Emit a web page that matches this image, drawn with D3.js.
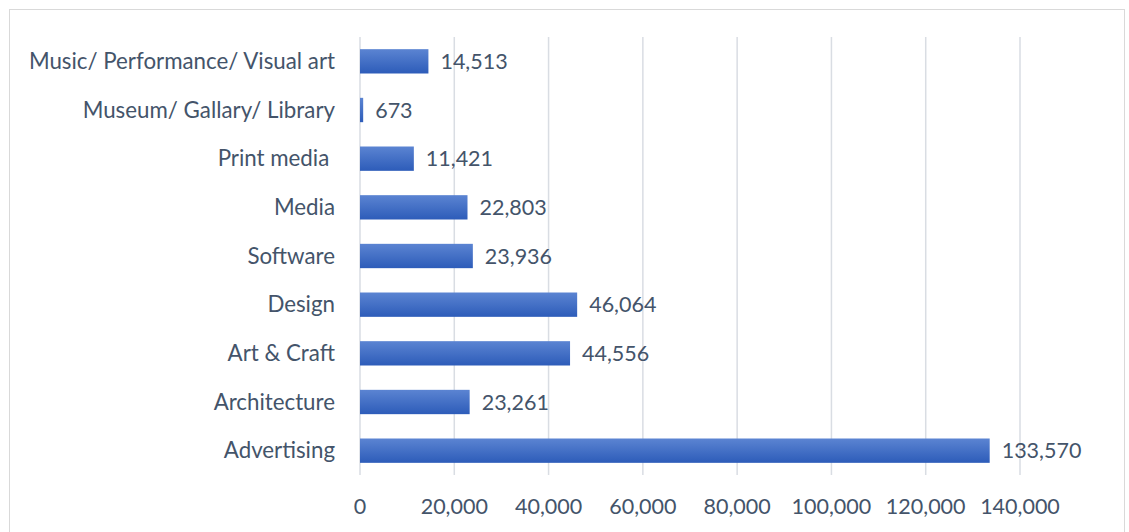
<!DOCTYPE html>
<html><head><meta charset="utf-8">
<script src="https://cdn.jsdelivr.net/npm/d3@7"></script>
<style>body{margin:0;background:#fff}svg{display:block}</style>
</head><body>
<script>
const categories = ["Music/ Performance/ Visual art","Museum/ Gallary/ Library","Print media ","Media","Software","Design","Art & Craft","Architecture","Advertising"];
const values = [14513,673,11421,22803,23936,46064,44556,23261,133570];
const tickValues = [0,20000,40000,60000,80000,100000,120000,140000];

const W=1129,H=532;
const svg=d3.select("body").append("svg").attr("width",W).attr("height",H);
svg.append("rect").attr("x",9.5).attr("y",9.5).attr("width",1115).attr("height",540).attr("fill","#fff").attr("stroke","#d9d9d9");
const defs=svg.append("defs");
const g=defs.append("linearGradient").attr("id","bg").attr("x1",0).attr("x2",0).attr("y1",0).attr("y2",1);
g.append("stop").attr("offset","0%").attr("stop-color","#5b84d2");
g.append("stop").attr("offset","100%").attr("stop-color","#2d5cb9");

const x=d3.scaleLinear().domain([0,140000]).range([360,1020]);
const y=d3.scaleBand().domain(categories).range([37,475]).paddingInner(0.5).paddingOuter(0.25);
const font="Lato, sans-serif", col="#44546a", fs=21.5;

svg.append("g").selectAll("line").data(tickValues).join("line")
 .attr("x1",d=>x(d)).attr("x2",d=>x(d)).attr("y1",37).attr("y2",475)
 .attr("stroke","#d9dde3").attr("stroke-width",1.5);

svg.append("g").selectAll("rect").data(values).join("rect")
 .attr("x",x(0)).attr("y",(d,i)=>y(categories[i])).attr("width",d=>x(d)-x(0)).attr("height",y.bandwidth())
 .attr("fill","url(#bg)");

svg.append("g").selectAll("text").data(values).join("text")
 .attr("x",d=>x(d)+12).attr("y",(d,i)=>y(categories[i])+y.bandwidth()/2).attr("dy","0.35em")
 .attr("font-family",font).attr("font-size",fs).attr("fill",col).text(d=>d3.format(",")(d));

svg.append("g").selectAll("text").data(categories).join("text")
 .attr("x",335).attr("y",d=>y(d)+y.bandwidth()/2).attr("dy","0.35em").attr("text-anchor","end")
 .attr("font-family",font).attr("font-size",22.3).attr("fill",col).style("white-space","pre").text(d=>d);

svg.append("g").selectAll("text").data(tickValues).join("text")
 .attr("x",d=>x(d)).attr("y",506).attr("dy","0.35em").attr("text-anchor","middle")
 .attr("font-family",font).attr("font-size",fs).attr("fill",col).text(d=>d3.format(",")(d));
</script>
</body></html>
